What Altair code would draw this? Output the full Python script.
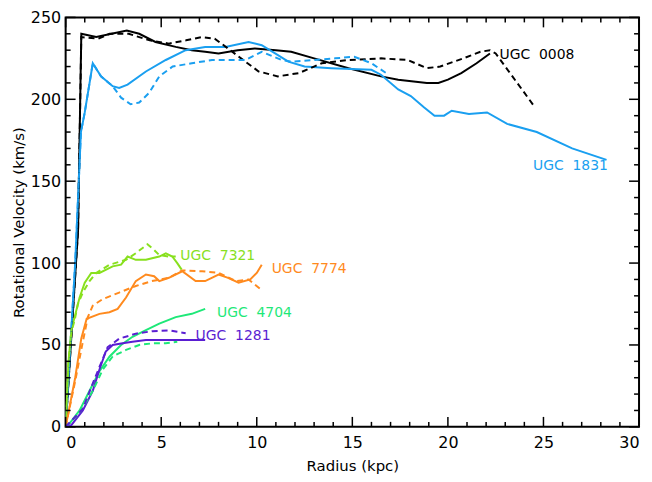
import altair as alt
import pandas as pd

# ---- data ----
galaxies = ["UGC 0008", "UGC 1831", "UGC 7321", "UGC 7774", "UGC 4704", "UGC 1281"]
colors = ["#000000", "#1a9ff0", "#88e01e", "#ff8a1e", "#1ee878", "#5a1ed2"]

r_0008_s = [0, 0.65, 0.82, 1.6, 2.4, 3.2, 3.85, 4.7, 5.76, 6.6, 7.3, 8.0, 9.0, 9.9, 11.0, 11.8, 13.0, 14.8, 16.5, 17.4, 18.9, 19.5, 20.0, 20.7, 21.5, 22.2]
v_0008_s = [0, 120, 240, 238, 240, 242, 240, 235, 232, 230, 229, 228, 230, 231, 230, 229, 225, 219, 214, 212, 210, 210, 212, 216, 222, 228]
r_0008_d = [0, 0.65, 0.82, 1.7, 2.3, 3.3, 4.4, 5.4, 6.3, 7.1, 7.8, 8.5, 9.4, 10.1, 11.1, 12.2, 13.4, 14.8, 16.5, 17.9, 18.9, 19.6, 20.8, 21.7, 22.2, 22.5, 24.5]
v_0008_d = [0, 120, 238, 237, 240, 240, 236, 234, 236, 238, 237, 231, 223, 217, 214, 216, 222, 224, 225, 224, 219, 220, 225, 229, 230, 228, 196]

r_1831_s = [0, 0.5, 0.8, 1.0, 1.42, 1.85, 2.46, 2.8, 3.24, 4.2, 5.24, 6.28, 7.3, 8.36, 9.57, 10.26, 10.96, 11.65, 12.5, 13.9, 16.0, 16.5, 17.4, 18.06, 18.76, 19.3, 19.8, 20.2, 21.1, 22.05, 23.1, 24.65, 26.5, 28.3]
v_1831_s = [0, 100, 180, 192, 222, 214, 208, 207, 209, 217, 224, 230, 232, 232, 235, 233, 228, 223, 220, 219, 218, 215, 206, 202, 195, 190, 190, 193, 191, 192, 185, 180, 170, 163]
r_1831_d = [0, 0.5, 0.8, 1.0, 1.42, 1.85, 2.46, 2.9, 3.4, 3.85, 4.37, 4.9, 5.6, 6.6, 7.66, 8.7, 9.4, 10.26, 11.3, 11.8, 13.0, 14.1, 15.1, 16.0, 16.9]
v_1831_d = [0, 100, 180, 192, 222, 214, 208, 201, 197, 198, 204, 214, 220, 222, 224, 224, 224, 229, 224, 223, 224, 225, 226, 222, 215]

r_7321_s = [0, 0.15, 0.3, 0.47, 0.73, 1.0, 1.34, 1.77, 2.46, 2.9, 3.24, 3.67, 4.2, 4.9, 5.24, 5.58, 5.84, 6.07]
v_7321_s = [0, 40, 59, 67, 79, 88, 94, 94, 98, 99, 104, 102, 102, 104, 106, 104, 100, 96]
r_7321_d = [0, 0.15, 0.3, 0.47, 0.64, 0.9, 1.25, 1.6, 2.3, 3.16, 3.67, 4.28, 4.63, 4.89, 5.4, 5.76]
v_7321_d = [0, 40, 58, 65, 75, 82, 89, 94, 99, 102, 106, 111.5, 108, 105, 104, 104]

r_7774_s = [0, 0.5, 0.82, 1.1, 1.77, 2.29, 2.72, 3.16, 3.67, 4.2, 4.63, 4.9, 5.4, 6.1, 6.8, 7.3, 8.0, 8.5, 9.05, 9.66, 10.0, 10.26]
v_7774_s = [0, 30, 54, 66, 69, 70, 72, 79, 89, 93, 92, 89, 91, 95, 89, 89, 93, 91, 88, 90, 94, 99]
r_7774_d = [0, 0.5, 0.9, 1.16, 1.42, 1.94, 2.8, 3.67, 4.5, 5.4, 6.1, 7.14, 8.0, 8.9, 9.57, 10.2]
v_7774_d = [0, 28, 52, 67, 74, 78, 82, 86, 89, 91, 95.5, 95, 94, 89, 90, 84]

r_4704_s = [0, 0.2, 0.73, 1.25, 1.77, 2.3, 2.9, 3.5, 4.2, 4.9, 5.76, 6.6, 7.3]
v_4704_s = [0, 2, 10, 22, 34, 43, 50, 55, 59, 63, 67, 69, 72]
r_4704_d = [0, 0.73, 1.42, 1.94, 2.46, 3.16, 3.85, 4.54, 5.24, 5.84]
v_4704_d = [0, 8.5, 22, 35, 43, 47, 50, 51, 51, 52]

r_1281_s = [0, 0.3, 0.9, 1.42, 1.77, 2.1, 2.46, 2.98, 3.5, 4.2, 5.4, 6.6, 7.3]
v_1281_s = [0, 1, 10, 22, 35, 46, 50, 51, 52, 53, 53, 53, 53]
r_1281_d = [0, 0.9, 1.42, 1.77, 2.2, 2.8, 3.67, 4.54, 5.4, 6.28]
v_1281_d = [0, 11, 26.5, 36.6, 48.7, 53.8, 56.9, 58.4, 58.9, 57.2]

label_text = ["UGC\u00a0\u00a00008", "UGC\u00a0\u00a01831", "UGC\u00a0\u00a07321",
              "UGC\u00a0\u00a07774", "UGC\u00a0\u00a04704", "UGC\u00a0\u00a01281"]
label_r = [22.7, 24.45, 6.0, 10.78, 7.92, 6.8]
label_v = [227, 159, 104, 96.3, 69.6, 55.4]

x_major = [0, 5, 10, 15, 20, 25, 30]
x_minor = [i for i in range(31) if i % 5 != 0]
y_major = [0, 50, 100, 150, 200, 250]
y_minor = [i for i in range(0, 251, 10) if i % 50 != 0]

# ---- build tables ----
series = {
    "UGC 0008": (r_0008_s, v_0008_s, r_0008_d, v_0008_d),
    "UGC 1831": (r_1831_s, v_1831_s, r_1831_d, v_1831_d),
    "UGC 7321": (r_7321_s, v_7321_s, r_7321_d, v_7321_d),
    "UGC 7774": (r_7774_s, v_7774_s, r_7774_d, v_7774_d),
    "UGC 4704": (r_4704_s, v_4704_s, r_4704_d, v_4704_d),
    "UGC 1281": (r_1281_s, v_1281_s, r_1281_d, v_1281_d),
}
rows = []
for g, (rs, vs, rd, vd) in series.items():
    for i, (r, v) in enumerate(zip(rs, vs)):
        rows.append({"galaxy": g, "style": "solid", "key": g + "s", "i": i, "r": r, "v": v})
    for i, (r, v) in enumerate(zip(rd, vd)):
        rows.append({"galaxy": g, "style": "dashed", "key": g + "d", "i": i, "r": r, "v": v})
df = pd.DataFrame(rows)
labels = pd.DataFrame({"galaxy": galaxies, "text": label_text, "r": label_r, "v": label_v})

W, H = 577, 412
FONT = "DejaVu Sans"

xs = alt.Scale(domain=[0, 30], nice=False, zero=False)
ys = alt.Scale(domain=[0, 250], nice=False, zero=False)
cs = alt.Scale(domain=galaxies, range=colors)

xaxis = alt.Axis(values=x_major, ticks=False, domain=False, grid=False, labelFont=FONT,
                 labelFontSize=16, labelColor="black", labelPadding=8, title="Radius (kpc)",
                 titleFont=FONT, titleFontSize=15, titleFontWeight="normal", titleColor="black",
                 titlePadding=8, format="d")
yaxis = alt.Axis(values=y_major, ticks=False, domain=False, grid=False, labelFont=FONT,
                 labelFontSize=16, labelColor="black", labelPadding=5,
                 title="Rotational Velocity (km/s)", titleFont=FONT, titleFontSize=15,
                 titleFontWeight="normal", titleColor="black", titlePadding=4, format="d")

solid = alt.Chart(df[df["style"] == "solid"]).mark_line(strokeWidth=2, clip=True).encode(
    x=alt.X("r:Q", scale=xs, axis=xaxis),
    y=alt.Y("v:Q", scale=ys, axis=yaxis),
    color=alt.Color("galaxy:N", scale=cs, legend=None),
    detail="key:N",
    order="i:Q",
)
dashed = alt.Chart(df[df["style"] == "dashed"]).mark_line(strokeWidth=2, strokeDash=[6, 4], clip=True).encode(
    x=alt.X("r:Q", scale=xs),
    y=alt.Y("v:Q", scale=ys),
    color=alt.Color("galaxy:N", scale=cs, legend=None),
    detail="key:N",
    order="i:Q",
)
text = alt.Chart(labels).mark_text(align="left", baseline="middle", font=FONT, fontSize=14).encode(
    x=alt.X("r:Q", scale=xs),
    y=alt.Y("v:Q", scale=ys),
    text="text:N",
    color=alt.Color("galaxy:N", scale=cs, legend=None),
)

def xticks(vals, length):
    d = pd.DataFrame({"t": vals})
    b = alt.Chart(d).mark_rule(color="black", strokeWidth=1.5).encode(
        x=alt.X("t:Q", scale=xs), y=alt.value(H), y2=alt.value(H - length))
    t = alt.Chart(d).mark_rule(color="black", strokeWidth=1.5).encode(
        x=alt.X("t:Q", scale=xs), y=alt.value(0), y2=alt.value(length))
    return [b, t]

def yticks(vals, length):
    d = pd.DataFrame({"t": vals})
    l = alt.Chart(d).mark_rule(color="black", strokeWidth=1.5).encode(
        y=alt.Y("t:Q", scale=ys), x=alt.value(0), x2=alt.value(length))
    r = alt.Chart(d).mark_rule(color="black", strokeWidth=1.5).encode(
        y=alt.Y("t:Q", scale=ys), x=alt.value(W), x2=alt.value(W - length))
    return [l, r]

tick_layers = xticks(x_major, 10) + xticks(x_minor, 5) + yticks(y_major, 10) + yticks(y_minor, 5)

chart = alt.layer(solid, dashed, text, *tick_layers).properties(
    width=W, height=H,
    autosize=alt.AutoSizeParams(type="none"),
    padding={"left": 58, "top": 8, "right": 5, "bottom": 50},
    background="white",
).configure_view(stroke="black", strokeWidth=2)

chart.save("out.html", embed_options={"renderer": "svg", "actions": False})
